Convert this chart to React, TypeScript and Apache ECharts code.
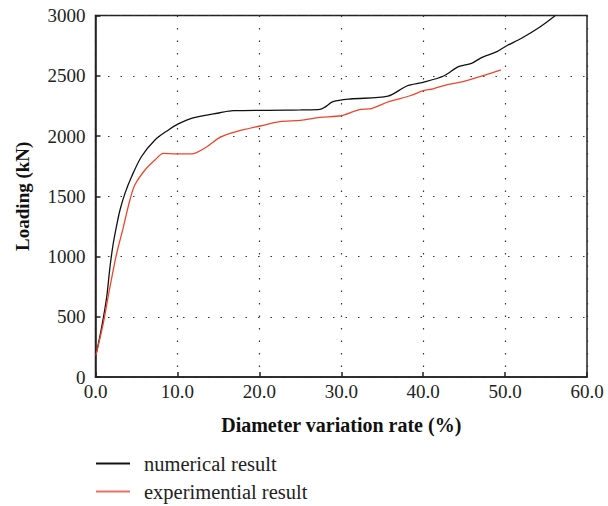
import React, { useEffect, useRef } from "react";
import * as echarts from "echarts";

const numericalX = [0.05, 0.76, 1.37, 1.77, 2.17, 2.59, 2.99, 3.6, 4.4, 5.6, 7.26, 8.9, 10.1, 11.9, 15.2, 16.8, 23.3, 25.0, 27.4, 28.0, 29.0, 31.1, 35.7, 38.0, 40.0, 42.5, 44.3, 45.9, 47.2, 49.0, 50.2, 52.0, 54.3, 56.1];
const numericalY = [180, 417, 666, 915, 1110, 1260, 1386, 1524, 1662, 1828, 1967, 2050, 2100, 2150, 2193, 2210, 2214, 2216, 2221, 2240, 2285, 2307, 2331, 2415, 2446, 2498, 2575, 2603, 2653, 2700, 2749, 2811, 2907, 2998];

const experimentalX = [0.05, 0.95, 1.77, 2.59, 3.39, 3.6, 4.2, 4.8, 6.04, 7.26, 8.28, 9.9, 11.7, 13.6, 15.2, 17.2, 20.1, 22.5, 25.0, 27.4, 30.0, 32.1, 33.8, 35.8, 38.4, 40.0, 41.2, 43.1, 44.9, 46.9, 49.5];
const experimentalY = [180, 446, 749, 1027, 1240, 1303, 1469, 1593, 1718, 1801, 1856, 1851, 1851, 1911, 1989, 2036, 2083, 2119, 2130, 2155, 2168, 2216, 2230, 2285, 2334, 2376, 2392, 2429, 2451, 2492, 2548];

const seriesNames = ["numerical result", "experimential result"];
const xTicks = [0, 10, 20, 30, 40, 50, 60];
const yTicks = [0, 500, 1000, 1500, 2000, 2500, 3000];

const FONT = "'Liberation Serif', 'Times New Roman', serif";

export default function App() {
  const ref = useRef<HTMLDivElement>(null);
  useEffect(() => {
    if (!ref.current) return;
    const chart = echarts.init(ref.current, undefined, { renderer: "svg" });
    const zip = (xs: number[], ys: number[]) => xs.map((x, i) => [x, ys[i]]);
    chart.setOption({
      animation: false,
      textStyle: { fontFamily: FONT },
      grid: {
        left: 95.5,
        right: 21,
        top: 15.5,
        bottom: 129,
        show: true,
        borderColor: "#222",
        borderWidth: 1.5,
        backgroundColor: "transparent",
      },
      legend: {
        orient: "vertical",
        left: 96,
        top: 453,
        padding: 0,
        itemWidth: 34,
        itemHeight: 2,
        itemGap: 7,
        icon: "rect",
        textStyle: { fontFamily: FONT, fontSize: 20.5, color: "#222", padding: [0, 0, 0, 9] },
        data: seriesNames,
      },
      xAxis: {
        type: "value",
        min: xTicks[0],
        max: xTicks[xTicks.length - 1],
        interval: 10,
        name: "Diameter variation rate (%)",
        nameLocation: "middle",
        nameGap: 38,
        nameTextStyle: { fontFamily: FONT, fontSize: 20, fontWeight: "bold", color: "#111" },
        axisLine: { show: true, lineStyle: { color: "#222", width: 1.5 } },
        axisTick: { show: true, inside: true, length: 5, lineStyle: { color: "#222", width: 1.5 } },
        axisLabel: {
          fontFamily: FONT,
          fontSize: 19,
          color: "#222",
          margin: 5,
          formatter: (v: number) => v.toFixed(1),
        },
        splitLine: { show: true, lineStyle: { color: "#333", type: [1.5, 11], width: 1.2 } },
      },
      yAxis: {
        type: "value",
        min: yTicks[0],
        max: yTicks[yTicks.length - 1],
        interval: 500,
        name: "Loading (kN)",
        nameLocation: "middle",
        nameGap: 64,
        nameTextStyle: { fontFamily: FONT, fontSize: 19, fontWeight: "bold", color: "#111" },
        axisLine: { show: true, lineStyle: { color: "#222", width: 1.5 } },
        axisTick: { show: true, inside: true, length: 5, lineStyle: { color: "#222", width: 1.5 } },
        axisLabel: {
          fontFamily: FONT,
          fontSize: 19,
          color: "#222",
          margin: 10,
          formatter: (v: number) => String(v),
        },
        splitLine: { show: true, lineStyle: { color: "#333", type: [1.5, 11], width: 1.2 } },
      },
      series: [
        {
          name: seriesNames[0],
          type: "line",
          data: zip(numericalX, numericalY),
          showSymbol: false,
          smooth: 0.3,
          lineStyle: { color: "#111", width: 1.3 },
          itemStyle: { color: "#111" },
        },
        {
          name: seriesNames[1],
          type: "line",
          data: zip(experimentalX, experimentalY),
          showSymbol: false,
          smooth: 0.3,
          lineStyle: { color: "#f0452a", width: 1.3 },
          itemStyle: { color: "#f07060" },
        },
      ],
    });
    return () => chart.dispose();
  }, []);
  return <div ref={ref} style={{ width: 608, height: 506, position: "absolute", left: 0, top: 0 }} />;
}
